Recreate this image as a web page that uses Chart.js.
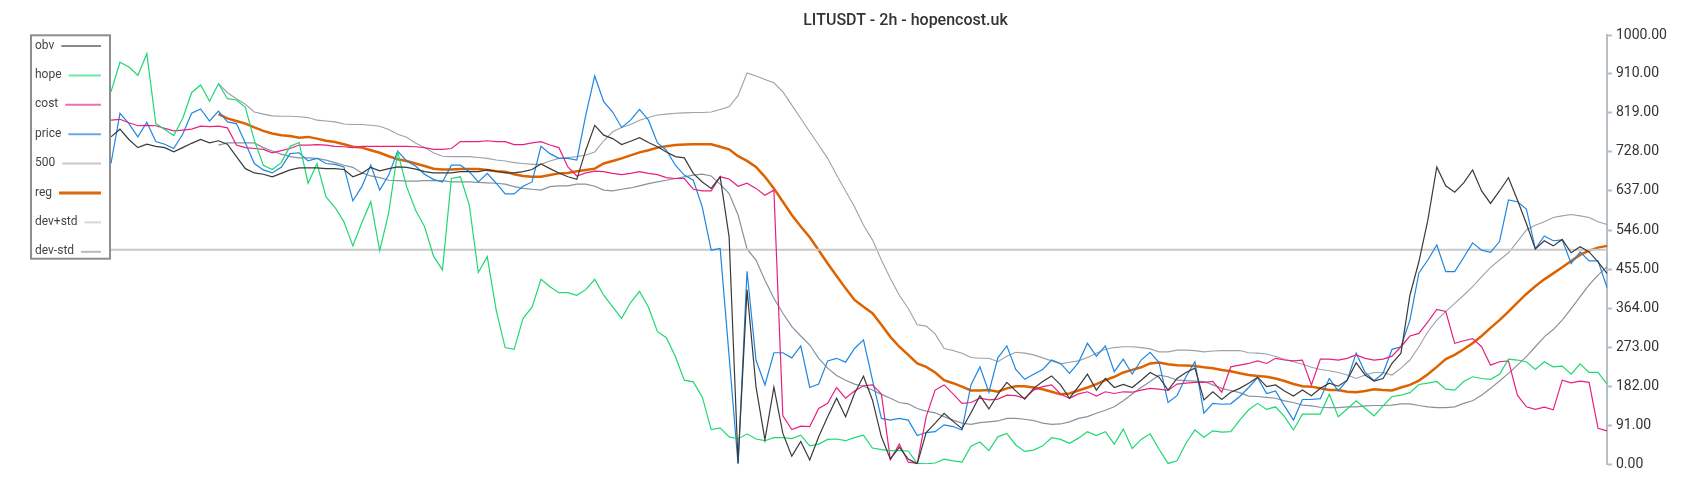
<!DOCTYPE html>
<html>
<head>
<meta charset="utf-8">
<script src="https://cdn.jsdelivr.net/npm/chart.js@4.4.1/dist/chart.umd.min.js"></script>
<style>
  html, body { margin: 0; padding: 0; background: #ffffff; }
  #wrap { width: 1700px; height: 500px; }
</style>
</head>
<body>
<div id="wrap"><canvas id="c" width="1700" height="500"></canvas></div>
<script>
const titleText = 'LITUSDT - 2h - hopencost.uk';
const yTicks = [0, 91, 182, 273, 364, 455, 546, 637, 728, 819, 910, 1000];
const yTickLabels = ['0.00', '91.00', '182.00', '273.00', '364.00', '455.00', '546.00', '637.00', '728.00', '819.00', '910.00', '1000.00'];

const obv = [
763,781,757,738,746,741,738,728,738,748,
757,749,754,746,717,689,679,676,670,678,
686,691,691,691,689,689,687,670,678,692,
684,689,693,692,688,682,679,679,679,682,
682,682,686,683,679,679,682,687,700,689,
679,670,664,732,790,767,759,745,753,761,
750,740,728,717,714,678,658,643,670,530,
3,407,181,57,180,72,19,53,10,64,
111,154,111,165,205,150,64,12,40,12,
1,74,96,119,100,83,120,160,129,163,
191,171,152,177,193,206,185,154,181,210,
173,200,179,186,179,196,214,203,173,200,
214,224,150,169,151,168,177,189,203,181,
185,171,159,173,160,177,189,182,196,237,
208,194,200,235,259,394,472,569,693,649,
634,656,686,637,608,637,668,616,561,502,
521,509,524,493,507,495,472,445];

const hope = [
868,937,926,906,957,794,780,766,806,866,
884,846,887,852,849,832,755,697,687,703,
741,750,655,701,623,599,565,509,563,612,
498,586,728,647,592,554,485,453,666,670,
604,447,484,359,272,268,340,366,431,414,
400,400,394,407,431,394,367,340,377,403,
366,309,295,251,196,192,157,81,85,64,
59,71,59,55,62,62,60,68,43,47,
58,59,55,62,68,38,34,32,32,31,
2,1,3,12,8,5,42,52,32,64,
72,45,30,33,43,62,58,49,61,76,
67,76,47,82,37,58,71,35,2,8,
49,80,63,78,75,76,103,127,142,128,
134,111,80,117,117,117,163,111,129,148,
130,113,136,158,161,167,186,189,193,175,
173,193,204,200,198,210,245,243,239,221,
239,227,229,210,234,214,214,187];

const cost = [
802,804,796,789,790,789,783,777,779,781,
788,787,788,784,744,738,736,734,726,731,
736,744,744,745,744,741,740,738,741,741,
741,741,741,741,740,738,734,734,736,752,
752,752,754,752,752,745,745,749,752,744,
738,693,672,679,683,682,678,675,678,682,
678,675,668,666,666,641,637,637,670,665,
648,655,643,627,639,113,81,89,88,130,
142,179,154,171,183,185,164,11,47,5,
2,111,173,185,164,142,144,154,150,152,
161,160,154,173,181,185,164,154,164,169,
159,169,165,169,168,173,177,175,172,187,
189,191,191,193,168,227,231,235,241,235,
247,243,241,243,185,245,245,243,247,255,
247,243,245,252,274,299,305,332,361,356,
282,288,293,274,231,239,241,161,134,128,
133,127,196,190,194,191,84,78];

const price = [
701,818,794,763,797,752,746,736,769,818,
828,800,823,798,794,749,701,686,679,692,
724,726,707,713,701,699,693,614,647,697,
639,674,730,707,695,676,664,658,697,697,
682,658,678,655,630,630,648,658,741,724,
713,713,709,814,905,845,821,785,802,827,
802,749,732,697,674,662,600,499,503,252,
0,450,243,185,260,260,248,276,179,187,
241,247,238,270,290,197,107,103,107,103,
67,74,76,92,88,80,185,227,168,248,
276,221,198,210,221,243,235,212,237,282,
252,276,216,245,210,243,261,237,144,160,
204,239,119,142,140,141,158,179,202,165,
171,136,103,151,151,153,200,171,196,259,
214,195,212,268,274,336,446,476,511,449,
449,482,516,499,494,519,616,612,595,502,
532,521,523,468,495,474,474,412];

const level500 = [
500,500,500,500,500,500,500,500,500,500,
500,500,500,500,500,500,500,500,500,500,
500,500,500,500,500,500,500,500,500,500,
500,500,500,500,500,500,500,500,500,500,
500,500,500,500,500,500,500,500,500,500,
500,500,500,500,500,500,500,500,500,500,
500,500,500,500,500,500,500,500,500,500,
500,500,500,500,500,500,500,500,500,500,
500,500,500,500,500,500,500,500,500,500,
500,500,500,500,500,500,500,500,500,500,
500,500,500,500,500,500,500,500,500,500,
500,500,500,500,500,500,500,500,500,500,
500,500,500,500,500,500,500,500,500,500,
500,500,500,500,500,500,500,500,500,500,
500,500,500,500,500,500,500,500,500,500,
500,500,500,500,500,500,500,500,500,500,
500,500,500,500,500,500,500,500];

const reg = [
null,null,null,null,null,null,null,null,null,null,
null,null,816,806,800,794,785,777,771,767,
765,761,763,759,754,751,746,740,738,732,
726,718,711,707,701,695,689,687,687,688,
688,688,686,683,682,676,672,670,670,674,
678,679,683,686,689,701,707,713,720,727,
732,738,741,744,745,746,746,746,740,734,
718,707,693,670,643,612,581,554,529,499,
468,439,410,383,367,352,325,297,274,255,
235,227,214,196,189,181,172,172,173,169,
177,182,182,179,175,169,163,165,172,179,
187,196,204,214,220,226,235,237,233,231,
230,229,226,224,220,217,212,208,206,204,
200,194,187,182,181,177,173,173,169,168,
171,175,173,172,179,185,195,210,227,245,
255,268,282,299,318,336,356,377,397,415,
431,445,459,474,488,498,505,509];

const devPlus = [
null,null,null,null,null,null,null,null,null,null,
null,null,887,866,852,839,821,816,812,811,
811,810,808,802,800,798,793,792,792,790,
788,780,769,762,749,738,726,718,717,717,
717,715,713,709,707,703,701,699,699,707,
713,715,717,721,728,754,775,785,792,802,
808,814,816,818,819,820,820,821,827,833,
859,912,905,897,889,868,837,806,775,744,
713,674,637,600,557,523,476,433,394,363,
325,322,304,270,265,259,249,247,247,239,
252,261,259,255,248,241,234,238,241,249,
259,268,272,274,274,272,269,262,262,266,
266,265,262,264,265,265,265,260,259,257,
251,245,239,233,226,221,218,214,208,200,
208,214,214,208,224,243,274,309,336,356,
375,394,414,437,459,476,493,519,546,557,
565,575,579,582,579,575,565,559];

const devMinus = [
null,null,null,null,null,null,null,null,null,null,
null,null,744,749,749,749,749,738,730,723,
717,714,714,713,709,703,697,692,679,672,
668,662,661,660,660,661,661,661,658,658,
658,657,656,655,653,647,643,641,639,647,
649,649,653,653,648,639,637,641,644,649,
654,658,662,666,670,674,676,672,653,631,
581,502,476,429,387,352,321,299,278,247,
224,207,196,187,182,173,163,154,144,141,
130,124,120,111,103,96,93,97,99,101,
107,107,105,102,96,93,94,99,107,111,
119,126,134,148,164,179,193,208,204,196,
195,194,193,185,177,172,167,159,158,156,
154,148,144,138,136,133,132,132,134,134,
136,137,137,138,141,141,137,134,132,132,
134,142,148,161,177,194,212,231,251,274,
297,314,336,363,391,418,441,460];

const categories = obv.map((_, i) => String(i));

function ds(label, data, color, width, legendColor, legendWidth) {
  return {
    label, data,
    borderColor: color,
    backgroundColor: color,
    borderWidth: width,
    pointRadius: 0,
    pointHoverRadius: 0,
    tension: 0,
    fill: false,
    legendColor, legendWidth
  };
}

const legendPlugin = {
  id: 'sideLegend',
  afterDraw(chart) {
    const ctx = chart.ctx;
    ctx.save();
    ctx.strokeStyle = '#8e8e8e';
    ctx.lineWidth = 2;
    ctx.strokeRect(31, 35.3, 79, 223.4);
    ctx.font = '12px Roboto';
    ctx.textBaseline = 'middle';
    ctx.textAlign = 'left';
    chart.data.datasets.forEach((d, k) => {
      const y = 45.5 + k * 29.4;
      ctx.fillStyle = '#444444';
      ctx.fillText(d.label, 35, y);
      const w = ctx.measureText(d.label).width;
      ctx.beginPath();
      ctx.strokeStyle = d.legendColor;
      ctx.lineWidth = d.legendWidth;
      ctx.moveTo(35 + w + 7, y + 0.5);
      ctx.lineTo(101, y + 0.5);
      ctx.stroke();
    });
    ctx.restore();
  }
};

new Chart(document.getElementById('c'), {
  type: 'line',
  data: {
    labels: categories,
    datasets: [
      ds('obv', obv, '#3a3a3a', 1.2, '#8a8a8a', 2),
      ds('hope', hope, '#1fd872', 1.2, '#70e8a6', 2),
      ds('cost', cost, '#e8207f', 1.2, '#ee70ad', 2),
      ds('price', price, '#1e86e0', 1.2, '#6aaae8', 2),
      ds('500', level500, '#c8c8c8', 2, '#c8c8c8', 2),
      ds('reg', reg, '#dd6300', 2.5, '#d86a10', 3),
      ds('dev+std', devPlus, '#9aa2aa', 1.1, '#d2d6da', 2),
      ds('dev-std', devMinus, '#86929e', 1.2, '#b2bac2', 2)
    ]
  },
  options: {
    responsive: false,
    animation: false,
    devicePixelRatio: 1,
    layout: { padding: { left: 111, right: 0, top: 0, bottom: 35.7 } },
    plugins: {
      legend: { display: false },
      tooltip: { enabled: false },
      title: {
        display: true,
        text: titleText,
        color: '#333333',
        font: { family: 'Roboto', size: 16, weight: '500' },
        padding: { top: 11, bottom: 5 }
      }
    },
    scales: {
      x: {
        type: 'category',
        display: false,
        offset: false
      },
      y: {
        position: 'right',
        min: 0,
        max: 1000,
        afterBuildTicks(scale) {
          scale.ticks = yTicks.map(v => ({ value: v }));
        },
        afterFit(scale) { scale.width = 93; },
        border: { display: true, color: '#b6bec6', width: 2 },
        grid: {
          display: true,
          drawOnChartArea: false,
          drawTicks: true,
          tickLength: 5,
          tickColor: '#b6bec6',
          tickWidth: 2,
          color: '#b6bec6'
        },
        ticks: {
          padding: 4,
          color: '#333333',
          font: { family: 'Roboto', size: 14 },
          callback(value) {
            const k = yTicks.indexOf(value);
            return k >= 0 ? yTickLabels[k] : '';
          }
        }
      }
    }
  },
  plugins: [legendPlugin]
});
</script>
</body>
</html>
